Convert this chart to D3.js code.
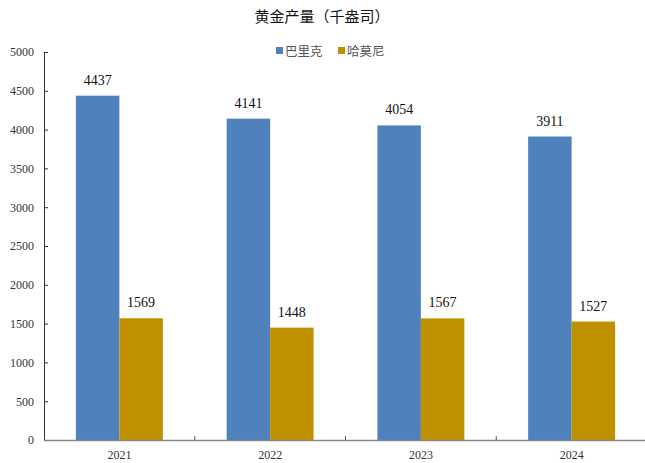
<!DOCTYPE html>
<html><head><meta charset="utf-8">
<script src="https://cdn.jsdelivr.net/npm/d3@7/dist/d3.min.js"></script>
<style>body{margin:0;background:#fff;} svg{display:block;}</style>
</head><body>
<svg id="c" width="645" height="463"></svg>
<script>
const title = "黄金产量（千盎司）";
const years = ["2021","2022","2023","2024"];
const seriesNames = ["巴里克","哈莫尼"];
const barrick = [4437,4141,4054,3911];
const harmony = [1569,1448,1567,1527];
const yTicks = [0,500,1000,1500,2000,2500,3000,3500,4000,4500,5000];
const colors = ["#4F81BD","#BF9000"];

const svg = d3.select("#c");
const m = {l:44, r:-2, t:52, b:23};
const W = 645, H = 463;
const x = d3.scaleBand().domain(years).range([m.l, W - m.r]).paddingInner(0).paddingOuter(0);
const y = d3.scaleLinear().domain([0,5000]).range([H - m.b, m.t]);
const xs = d3.scaleBand().domain(seriesNames).range([0, x.bandwidth()]).paddingInner(0).paddingOuter(0.734);

const serif = "'Liberation Serif','Times New Roman',serif";

svg.append("text").attr("x", 322).attr("y", 22).attr("text-anchor","middle")
  .style("font-family","'Noto Sans CJK SC',sans-serif").style("font-size","15px").style("font-weight","normal")
  .attr("fill","#111").text(title);

// legend
const lg = svg.append("g");
const legItems = [{n:seriesNames[0], x:276},{n:seriesNames[1], x:338}];
legItems.forEach((d,i)=>{
  lg.append("rect").attr("x", d.x).attr("y", 47).attr("width",7).attr("height",7).attr("fill",colors[i]);
  lg.append("text").attr("x", d.x+9).attr("y", 55.5)
    .style("font-family","'Noto Sans CJK SC',sans-serif").style("font-size","12.5px").attr("fill","#555").text(d.n);
});

// y axis
const ya = svg.append("g").attr("transform",`translate(${m.l},0)`)
  .call(d3.axisLeft(y).tickValues(yTicks).tickSize(-4).tickPadding(10).tickFormat(d3.format("d")));
ya.select(".domain").attr("stroke","#333");
ya.selectAll(".tick line").attr("stroke","#333");
ya.selectAll("text").style("font-family",serif).style("font-size","12px").attr("fill","#333");

// bars
const data = years.map((yr,i)=>({yr, vals:[barrick[i], harmony[i]]}));
const g = svg.append("g");
data.forEach(d=>{
  d.vals.forEach((v,j)=>{
    const bx = x(d.yr) + xs(seriesNames[j]);
    g.append("rect").attr("x", bx).attr("y", y(v)).attr("width", xs.bandwidth()).attr("height", y(0)-y(v)).attr("fill", colors[j]);
    g.append("text").attr("x", bx + xs.bandwidth()/2).attr("y", y(v) - 11).attr("text-anchor","middle")
      .style("font-family",serif).style("font-size","14px").attr("fill","#111").text(v);
  });
});

// x axis
const xa = svg.append("g").attr("transform",`translate(0,${y(0)})`)
  .call(d3.axisBottom(x).tickSize(0).tickPadding(10));
xa.select(".domain").attr("stroke","#888").attr("stroke-width",1.3);
xa.selectAll("text").style("font-family",serif).style("font-size","12px").attr("fill","#333");
// category boundary ticks
years.slice(1).forEach(yr=>{
  svg.append("line").attr("x1", x(yr)).attr("x2", x(yr)).attr("y1", y(0)).attr("y2", y(0)-4).attr("stroke","#555");
});
</script>
</body></html>
